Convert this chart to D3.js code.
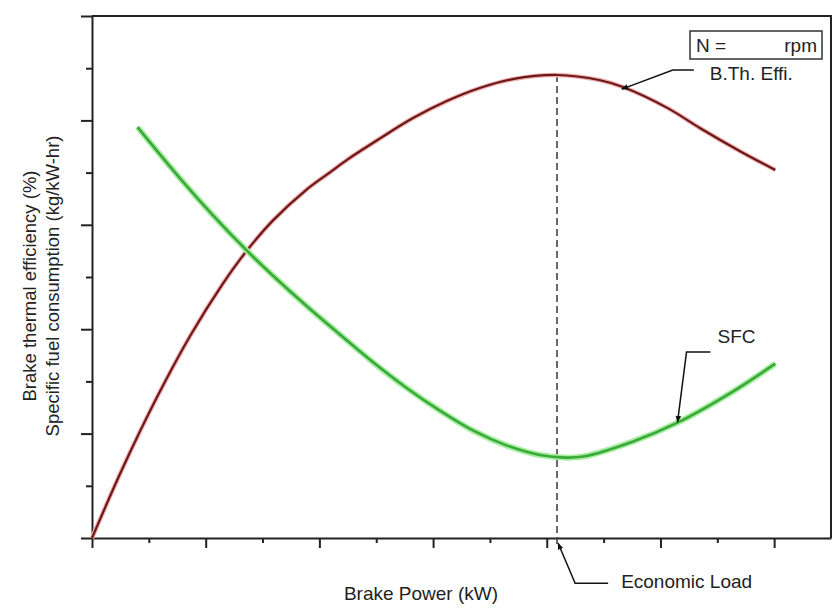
<!DOCTYPE html>
<html>
<head>
    <meta charset="utf-8">
    <script src="https://cdnjs.cloudflare.com/ajax/libs/d3/7.8.5/d3.min.js"></script>
    <title>Brake Power vs B.Th. Effi. and SFC</title>
    <style>
    body { margin: 0; background: #fff; }
    text { font-family: "Liberation Sans", Arial, sans-serif; fill: #222; }
    .lbl { font-size: 19px; }
    .ylbl { font-size: 18.5px; }
    .axis path, .axis line { stroke: #222; stroke-width: 2px; }
    </style>
</head>
<body>
<div id="container"></div>
<script>
// Brake thermal efficiency curve (brake power, arbitrary units)
var btePower = [0, 0.27, 0.57, 0.86, 1.15, 1.36, 1.59, 1.89, 2.09, 2.24, 2.53, 2.82, 3.12, 3.41, 3.70, 4.09, 4.47, 4.67, 5.06, 5.35, 5.70, 6.01];
var bteValue = [0, 1.34, 2.69, 3.86, 4.87, 5.50, 6.08, 6.68, 7.00, 7.24, 7.65, 8.04, 8.37, 8.62, 8.79, 8.87, 8.77, 8.64, 8.24, 7.85, 7.41, 7.05];

// Specific fuel consumption curve
var sfcPower = [0.40, 0.77, 1.06, 1.36, 1.59, 1.89, 2.18, 2.47, 2.77, 3.06, 3.35, 3.65, 3.94, 4.16, 4.32, 4.76, 5.15, 5.64, 6.01];
var sfcValue = [7.87, 6.90, 6.19, 5.51, 5.03, 4.44, 3.90, 3.37, 2.87, 2.44, 2.06, 1.77, 1.59, 1.54, 1.56, 1.85, 2.21, 2.81, 3.34];

var econLoad = 4.09;   // where the BTE peaks
var btePeak = 8.87;

var xTicks = d3.range(0, 6.5, 0.5);   // minor every 0.5, major on whole numbers
var yTicks = d3.range(0, 10.5, 1);    // minor every 1, major on even values

var w = 836, h = 613;
var plotL = 92, plotR = 831, plotT = 16, plotB = 538;

var svg = d3.select("#container").append("svg")
    .attr("width", w)
    .attr("height", h);

var x = d3.scaleLinear().domain([0, 6.5]).range([plotL, plotR]);
var y = d3.scaleLinear().domain([0, 10]).range([plotB, plotT]);

var defs = svg.append("defs");
defs.append("marker")
    .attr("id", "arrow")
    .attr("viewBox", "0 0 10 10")
    .attr("refX", 9).attr("refY", 5)
    .attr("markerWidth", 7).attr("markerHeight", 7)
    .attr("markerUnits", "userSpaceOnUse")
    .attr("orient", "auto")
  .append("path")
    .attr("d", "M0,1 L10,5 L0,9 Z")
    .attr("fill", "#111");

// frame (top + right)
svg.append("path")
    .attr("d", "M" + plotL + "," + plotT + " H" + plotR + " V" + plotB)
    .attr("fill", "none")
    .attr("stroke", "#222")
    .attr("stroke-width", 2);

// x axis: major + minor ticks, no labels
var isMajorX = function(d) { return Math.abs(d - Math.round(d)) < 1e-6; };
svg.append("g").attr("class", "axis")
    .attr("transform", "translate(0," + plotB + ")")
    .call(d3.axisBottom(x).tickValues(xTicks.filter(isMajorX)).tickSize(10).tickSizeOuter(0).tickFormat(""));
svg.append("g").attr("class", "axis")
    .attr("transform", "translate(0," + plotB + ")")
    .call(d3.axisBottom(x).tickValues(xTicks.filter(function(d) { return !isMajorX(d); })).tickSize(5).tickSizeOuter(0).tickFormat(""))
    .select(".domain").remove();

// y axis
var isMajorY = function(d) { return d % 2 === 0; };
svg.append("g").attr("class", "axis")
    .attr("transform", "translate(" + plotL + ",0)")
    .call(d3.axisLeft(y).tickValues(yTicks.filter(isMajorY)).tickSize(11).tickSizeOuter(0).tickFormat(""));
svg.append("g").attr("class", "axis")
    .attr("transform", "translate(" + plotL + ",0)")
    .call(d3.axisLeft(y).tickValues(yTicks.filter(function(d) { return !isMajorY(d); })).tickSize(6).tickSizeOuter(0).tickFormat(""))
    .select(".domain").remove();

// economic load dashed line
svg.append("line")
    .attr("x1", x(econLoad)).attr("x2", x(econLoad))
    .attr("y1", y(btePeak)).attr("y2", plotB + 10)
    .attr("stroke", "#444")
    .attr("stroke-width", 1.6)
    .attr("stroke-dasharray", "7,4");

var line = d3.line()
    .x(function(d) { return x(d[0]); })
    .y(function(d) { return y(d[1]); })
    .curve(d3.curveCatmullRom.alpha(0.5));

var bte = d3.zip(btePower, bteValue);
var sfc = d3.zip(sfcPower, sfcValue);

// soft glow under each curve, then the core line
svg.append("path").datum(bte).attr("d", line)
    .attr("fill", "none").attr("stroke", "#f2b0b0").attr("stroke-width", 4.5);
svg.append("path").datum(bte).attr("d", line)
    .attr("fill", "none").attr("stroke", "#6a1818").attr("stroke-width", 2.2);

svg.append("path").datum(sfc).attr("d", line)
    .attr("fill", "none").attr("stroke", "#a6ee9f").attr("stroke-width", 6);
svg.append("path").datum(sfc).attr("d", line)
    .attr("fill", "none").attr("stroke", "#3aa83a").attr("stroke-width", 2.6);

// callouts: tip in data units, knee/end/text as pixel offsets from the tip
var callouts = [
    { text: "B.Th. Effi.", tip: [4.66, 8.60], knee: [51, -19], end: [72, -19], at: [88, -9] },
    { text: "SFC", tip: [5.15, 2.22], knee: [9, -70], end: [33, -70], at: [40, -79] },
    { text: "Economic Load", tip: [4.10, -0.10], knee: [17, 40], end: [50, 40], at: [63, 45] }
];

callouts.forEach(function(c) {
    var tx = x(c.tip[0]), ty = y(c.tip[1]);
    svg.append("path")
        .attr("d", "M" + (tx + c.end[0]) + "," + (ty + c.end[1]) +
                   " L" + (tx + c.knee[0]) + "," + (ty + c.knee[1]) +
                   " L" + tx + "," + ty)
        .attr("fill", "none")
        .attr("stroke", "#111")
        .attr("stroke-width", 1.5)
        .attr("marker-end", "url(#arrow)");
    svg.append("text").attr("class", "lbl")
        .attr("x", tx + c.at[0]).attr("y", ty + c.at[1])
        .text(c.text);
});

// speed box
svg.append("rect")
    .attr("x", 690).attr("y", 31)
    .attr("width", 132).attr("height", 28)
    .attr("fill", "#fff")
    .attr("stroke", "#333")
    .attr("stroke-width", 1.5);
svg.append("text").attr("class", "lbl").attr("x", 696).attr("y", 52).text("N =");
svg.append("text").attr("class", "lbl").attr("x", 817).attr("y", 52)
    .attr("text-anchor", "end").text("rpm");

// axis titles
svg.append("text").attr("class", "lbl")
    .attr("x", 421).attr("y", 600)
    .attr("text-anchor", "middle")
    .text("Brake Power (kW)");

var yMid = 286;
svg.append("text").attr("class", "ylbl")
    .attr("transform", "translate(36," + yMid + ") rotate(-90)")
    .attr("text-anchor", "middle")
    .text("Brake thermal efficiency (%)");
svg.append("text").attr("class", "ylbl")
    .attr("transform", "translate(59," + yMid + ") rotate(-90)")
    .attr("text-anchor", "middle")
    .text("Specific fuel consumption (kg/kW-hr)");
</script>
</body>
</html>
